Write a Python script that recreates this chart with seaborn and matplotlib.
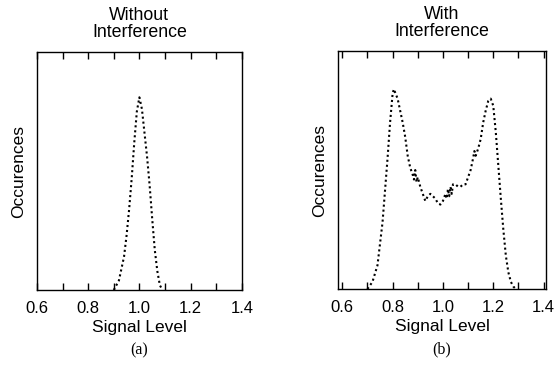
import matplotlib
matplotlib.use("Agg")
import matplotlib.pyplot as plt
import seaborn as sns
import pandas as pd
import numpy as np
from matplotlib.ticker import MultipleLocator, FixedLocator

# ---- data ----
signal_a = [0.90, 0.92, 0.94, 0.95, 0.96, 0.97, 0.98, 0.99, 1.00, 1.01, 1.02,
            1.03, 1.04, 1.05, 1.06, 1.07, 1.08, 1.09]
occ_a = [0.00, 0.04, 0.14, 0.23, 0.34, 0.47, 0.62, 0.75, 0.81, 0.76, 0.66,
         0.56, 0.44, 0.30, 0.17, 0.08, 0.02, 0.00]

signal_b = [0.70, 0.72, 0.74, 0.76, 0.78, 0.79, 0.80, 0.805, 0.82, 0.84, 0.85,
            0.86, 0.87, 0.88, 0.885, 0.89, 0.895, 0.90, 0.91, 0.92, 0.93,
            0.94, 0.95, 0.96, 0.97, 0.98, 0.99, 1.00, 1.01, 1.015, 1.02,
            1.025, 1.03, 1.035, 1.04, 1.05, 1.06, 1.07, 1.08, 1.09, 1.10,
            1.11, 1.12, 1.125, 1.13, 1.14, 1.15, 1.16, 1.17, 1.18, 1.19,
            1.20, 1.21, 1.22, 1.23, 1.24, 1.25, 1.26, 1.27, 1.28, 1.29]
occ_b = [0.00, 0.03, 0.10, 0.28, 0.55, 0.70, 0.82, 0.84, 0.80, 0.70, 0.64,
         0.56, 0.51, 0.48, 0.46, 0.50, 0.45, 0.47, 0.43, 0.40, 0.37,
         0.39, 0.40, 0.39, 0.38, 0.36, 0.355, 0.37, 0.40, 0.38, 0.42,
         0.39, 0.43, 0.40, 0.44, 0.44, 0.43, 0.43, 0.44, 0.44, 0.47,
         0.50, 0.55, 0.58, 0.56, 0.59, 0.63, 0.70, 0.75, 0.79, 0.80,
         0.77, 0.66, 0.52, 0.38, 0.25, 0.14, 0.07, 0.03, 0.01, 0.00]

titles = ["Without\nInterference", "With\nInterference"]
panel_labels = ["(a)", "(b)"]
xtick_vals = [0.6, 0.8, 1.0, 1.2, 1.4]
xtick_labels = ["0.6", "0.8", "1.0", "1.2", "1.4"]

sns.set_style("white")
plt.rcParams["font.family"] = ["Liberation Sans", "DejaVu Sans"]
plt.rcParams["text.color"] = "black"
plt.rcParams["axes.labelcolor"] = "black"
plt.rcParams["xtick.color"] = "black"
plt.rcParams["ytick.color"] = "black"

fig = plt.figure(figsize=(5.58, 3.70), dpi=100)
ax_a = fig.add_axes([0.0663, 0.2162, 0.367, 0.643])
ax_b = fig.add_axes([0.6057, 0.2189, 0.373, 0.643])

datasets = [(signal_a, occ_a), (signal_b, occ_b)]
xlims = [(0.6, 1.4), (0.583, 1.41)]

for ax, (xs, ys), title, plab, xl in zip([ax_a, ax_b], datasets, titles,
                                        panel_labels, xlims):
    df = pd.DataFrame({"Signal Level": xs, "Occurences": ys})
    sns.lineplot(data=df, x="Signal Level", y="Occurences", ax=ax,
                 color="black", linewidth=1.5, linestyle=(0, (1, 1.4)),
                 estimator=None, sort=False)
    ax.set_xlim(*xl)
    ax.set_ylim(0, 1.0)
    ax.set_yticks([])
    ax.xaxis.set_major_locator(FixedLocator(xtick_vals))
    ax.set_xticklabels(xtick_labels)
    ax.xaxis.set_minor_locator(MultipleLocator(0.1))
    ax.tick_params(axis="x", which="both", direction="in", length=5,
                   width=1, top=True, bottom=True, labelsize=12, pad=8,
                   color="black", labelcolor="black")
    for s in ax.spines.values():
        s.set_visible(True)
        s.set_color("black")
        s.set_linewidth(1.0)
    ax.set_xlabel("Signal Level", fontsize=12.5, labelpad=3, color="black")
    ax.set_ylabel("Occurences", fontsize=12.5, labelpad=8, color="black")
    ax.set_title(title, fontsize=12.8, pad=11, linespacing=1.0, color="black")
    ax.text(0.5, -0.255, plab, transform=ax.transAxes, ha="center",
            va="center", fontsize=11.5, family="Liberation Serif",
            color="black")

fig.savefig("out.png", dpi=100, facecolor="white")
